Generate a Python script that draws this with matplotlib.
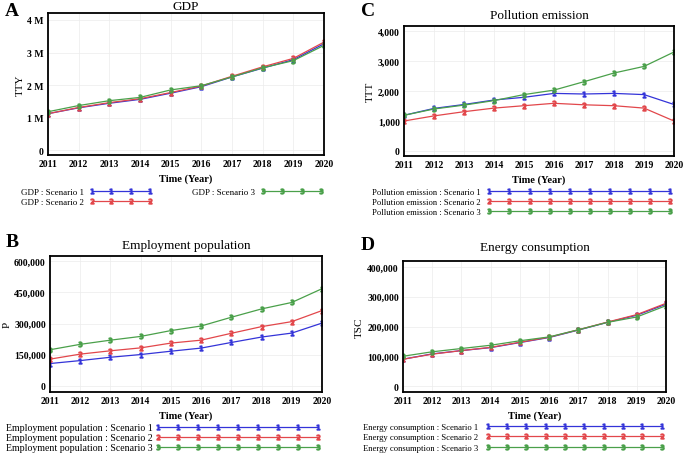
import matplotlib
matplotlib.use("Agg")
import matplotlib.pyplot as plt
from matplotlib.ticker import FuncFormatter

plt.rcParams['font.family'] = ['Liberation Serif', 'DejaVu Serif']

years = [2011, 2012, 2013, 2014, 2015, 2016, 2017, 2018, 2019, 2020]

gdp_s1 = [1.12, 1.30, 1.44, 1.56, 1.75, 1.95, 2.25, 2.52, 2.78, 3.27]
gdp_s2 = [1.12, 1.31, 1.46, 1.58, 1.77, 1.97, 2.27, 2.56, 2.82, 3.32]
gdp_s3 = [1.18, 1.37, 1.52, 1.62, 1.85, 1.98, 2.25, 2.53, 2.75, 3.22]

pol_s1 = [1190, 1420, 1550, 1700, 1790, 1920, 1900, 1920, 1880, 1550]
pol_s2 = [1000, 1170, 1310, 1430, 1510, 1590, 1540, 1510, 1430, 1000]
pol_s3 = [1190, 1400, 1530, 1680, 1880, 2030, 2310, 2600, 2820, 3300]

emp_s1 = [107800, 122000, 138000, 151000, 167000, 182000, 209000, 235000, 254000, 302000]
emp_s2 = [129000, 153000, 169000, 183000, 206000, 220000, 253000, 285000, 309000, 362000]
emp_s3 = [174000, 200000, 220000, 238000, 266000, 288000, 330000, 370000, 401000, 467000]

ene_s1 = [90000, 108000, 119000, 129000, 146000, 163000, 188000, 214000, 238000, 275000]
ene_s2 = [90000, 107000, 119000, 130000, 147000, 164000, 189000, 215000, 240000, 278000]
ene_s3 = [100000, 115000, 126000, 137000, 152000, 165000, 189000, 214000, 232000, 270000]

colors = ['#3434d8', '#e2474b', '#4aa04a']
markers = ['$1$', '$2$', '$3$']

W, H = 685, 460
fig = plt.figure(figsize=(W / 100, H / 100), dpi=100)


def px_axes(l, t, r, b):
    return fig.add_axes([l / W, 1 - b / H, (r - l) / W, (b - t) / H])


def style(ax, title, ylabel, ylim, yticks, fmt, title_pad):
    ax.set_xlim(2011, 2020)
    ax.set_ylim(*ylim)
    ax.set_xticks(years)
    ax.set_yticks(yticks)
    ax.yaxis.set_major_formatter(FuncFormatter(fmt))
    ax.tick_params(length=0, pad=3, labelsize=7)
    for lab in ax.get_xticklabels() + ax.get_yticklabels():
        lab.set_fontweight('bold')
    ax.grid(True, color='#ececec', lw=0.5)
    for s in ax.spines.values():
        s.set_linewidth(1.3)
    ax.set_title(title, fontsize=9.5, pad=title_pad)
    ax.set_ylabel(ylabel, fontsize=8, labelpad=2)
    ax.set_xlabel('Time (Year)', fontsize=7.5, fontweight='bold', labelpad=4)


def plot_series(ax, name, series):
    handles = []
    for i, vals in enumerate(series):
        ln, = ax.plot(years, vals, color=colors[i], lw=0.9, marker=markers[i],
                      markersize=3.5, label=f'{name} : Scenario {i + 1}')
        handles.append(ln)
    return handles


def add_legend(handles, x, y, fs, length_px, gap_px, numpoints, ncol=1, colsp_px=0,
               rowgap_px=11):
    fpx = fs * 100 / 72
    fig.legend(handles=handles, loc='upper left', bbox_to_anchor=(x / W, 1 - y / H),
               ncol=ncol, frameon=False, markerfirst=False, fontsize=fs,
               handlelength=length_px / fpx, numpoints=numpoints,
               labelspacing=max(rowgap_px - fpx, 0) / fpx, columnspacing=colsp_px / fpx,
               handletextpad=gap_px / fpx, borderpad=0, borderaxespad=0)


comma = lambda v, p: f'{int(round(v)):,}'

# A: GDP
axA = px_axes(48, 14, 324, 156)
hA = plot_series(axA, 'GDP', [gdp_s1, gdp_s2, gdp_s3])
style(axA, 'GDP', 'TTY', (-0.15, 4.215), [0, 1, 2, 3, 4],
      lambda v, p: '0' if v == 0 else f'{int(v)} M', 3)
add_legend(hA, 21, 189, 6.5, 64, 5, 4, ncol=2, colsp_px=39, rowgap_px=10.5)

# C: Pollution emission
axC = px_axes(404, 27, 674, 157)
hC = plot_series(axC, 'Pollution emission', [pol_s1, pol_s2, pol_s3])
style(axC, 'Pollution emission', 'TTT', (-167, 4167), [0, 1000, 2000, 3000, 4000], comma, 6)
add_legend(hC, 372, 189, 6.2, 186, 6, 10, rowgap_px=10.5)

# B: Employment population
axB = px_axes(50, 257, 322, 393)
hB = plot_series(axB, 'Employment population', [emp_s1, emp_s2, emp_s3])
style(axB, 'Employment population', 'P', (-28800, 624000),
      [0, 150000, 300000, 450000, 600000], comma, 6)
add_legend(hB, 6, 424, 7.1, 166, 2, 9, rowgap_px=11)

# D: Energy consumption
axD = px_axes(403, 262, 666, 393)
hD = plot_series(axD, 'Energy consumption', [ene_s1, ene_s2, ene_s3])
style(axD, 'Energy consumption', 'TSC', (-20168, 420168),
      [0, 100000, 200000, 300000, 400000], comma, 8)
add_legend(hD, 363, 424, 6.2, 179, 7, 10, rowgap_px=11)

# Panel letters
for letter, x, y in [('A', 12, 12), ('C', 368, 12), ('B', 12, 243), ('D', 368, 246)]:
    fig.text(x / W, 1 - y / H, letter, fontsize=14, fontweight='bold',
             ha='center', va='center')

fig.savefig('out.png', dpi=100)
